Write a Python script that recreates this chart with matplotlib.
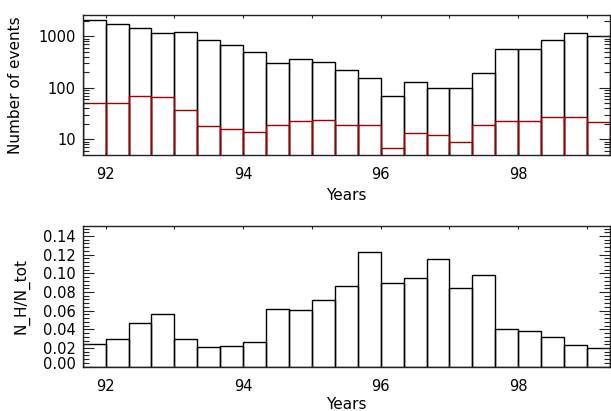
import numpy as np
import matplotlib
matplotlib.use("Agg")
import matplotlib.pyplot as plt
import matplotlib.transforms as mtransforms
from matplotlib.ticker import MultipleLocator, LogLocator, NullFormatter, FixedLocator

# bins are 4 months wide, starting Sep 1991
bin_start = 91 + 2/3 + np.arange(23) / 3.0
bin_width = 1/3.0

n_total = [2100, 1740, 1450, 1160, 1230, 850, 680, 500, 305, 360, 320, 217,
           152, 68, 131, 97, 97, 190, 578, 578, 837, 1143, 1030]
n_h = [50.6, 50, 68, 65, 37, 17.4, 15.2, 13.1, 18.2, 21.4, 22.4, 18.2,
       18.2, 5.9, 12.1, 11.3, 8.0, 18.2, 22, 21.4, 26.3, 26.3, 20.4]
ratio = [0.0246, 0.030, 0.0468, 0.0568, 0.030, 0.0207, 0.0225, 0.0268,
         0.0614, 0.0604, 0.0716, 0.0864, 0.1225, 0.0896, 0.0946, 0.1157,
         0.0843, 0.0979, 0.040, 0.0379, 0.0321, 0.0232, 0.0196]

year_ticks = [92, 94, 96, 98]
year_labels = ["92", "94", "96", "98"]
ratio_ticks = [0.0, 0.02, 0.04, 0.06, 0.08, 0.10, 0.12, 0.14]

plt.rcParams['font.family'] = ['DejaVu Sans']
plt.rcParams['font.size'] = 11

fig = plt.figure(figsize=(6.11, 4.11), dpi=100)
ax1 = fig.add_axes([0.1353, 0.6229, 0.863, 0.3406])
ax2 = fig.add_axes([0.1353, 0.1078, 0.863, 0.3423])

edge = '#222222'
red = '#a00000'

# top: number of events (log)
ax1.bar(bin_start, n_total, width=bin_width, align='edge', bottom=1,
        fill=False, edgecolor='black', linewidth=1.0)
ax1.bar(bin_start, n_h, width=bin_width, align='edge', bottom=1,
        fill=False, edgecolor=red, linewidth=1.0)
ax1.set_yscale('log')
ax1.set_ylim(5, 2600)
ax1.set_ylabel("Number of events")
ax1.set_xlabel("Years", labelpad=4)

# bottom: ratio
ax2.bar(bin_start, ratio, width=bin_width, align='edge',
        fill=False, edgecolor='black', linewidth=1.0)
ax2.set_yticks(ratio_ticks)
ax2.set_yticklabels(["%.2f" % v for v in ratio_ticks])
ax2.set_ylim(0, 0.1507)
ax2.yaxis.set_minor_locator(MultipleLocator(0.004))
ax2.set_ylabel("N_H/N_tot")
ax2.set_xlabel("Years", labelpad=2)

for ax in (ax1, ax2):
    ax.set_xlim(bin_start[0], bin_start[-1] + bin_width)
    ax.set_xticks(year_ticks)
    ax.set_xticklabels(year_labels)
    ax.xaxis.set_minor_locator(FixedLocator([93, 95, 97, 99]))
    ax.tick_params(axis='x', which='both', direction='in', top=True,
                   length=2.2, width=0.8, pad=9, color=edge, labelsize=10.5)
    ax.tick_params(axis='y', which='major', direction='in', right=True,
                   length=7.7, width=0.8, pad=5, color=edge, labelsize=10.5)
    ax.tick_params(axis='y', which='minor', direction='in', right=True,
                   length=4.1, width=0.8, color=edge)
    for s in ax.spines.values():
        s.set_color(edge)
        s.set_linewidth(1.0)

ax1.yaxis.set_minor_locator(LogLocator(base=10, subs=np.arange(2, 10)))
ax1.yaxis.set_minor_formatter(NullFormatter())
ax1.set_yticks([10, 100, 1000])
ax1.set_yticklabels(["10", "100", "1000"])

# lowest ratio label sits a bit above its tick, as in the original
lab0 = ax2.yaxis.get_major_ticks()[0].label1
lab0.set_transform(lab0.get_transform() +
                   mtransforms.ScaledTranslation(0, 3.5/100, fig.dpi_scale_trans))

ax1.yaxis.set_label_coords(-0.113, 0.5)
ax2.yaxis.set_label_coords(-0.100, 0.5)

fig.savefig("out.png", dpi=100)
